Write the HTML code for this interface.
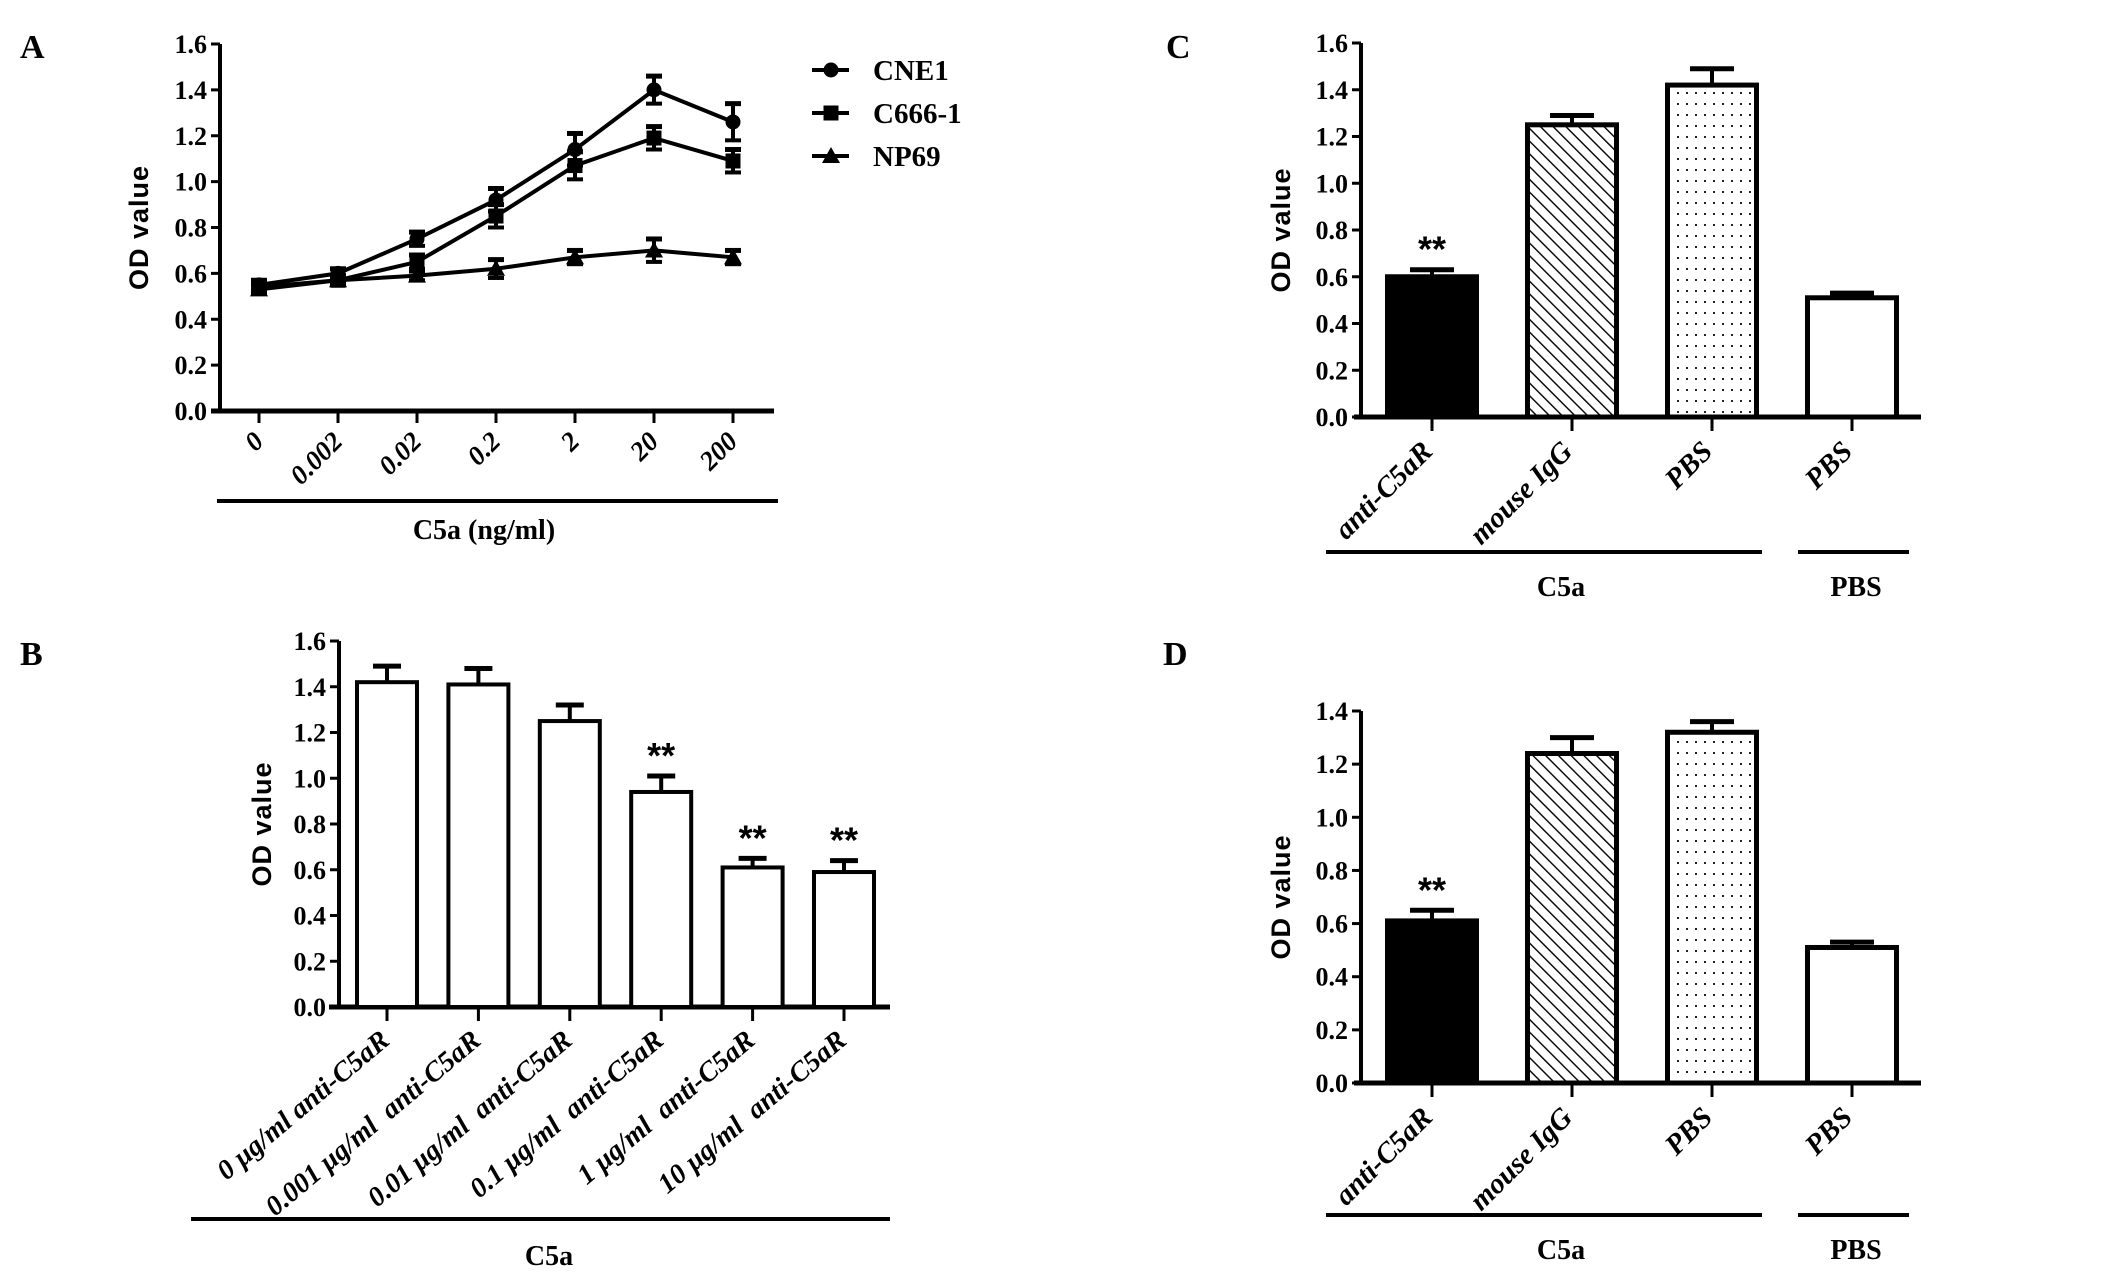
<!DOCTYPE html>
<html><head><meta charset="utf-8"><style>
html,body{margin:0;padding:0;background:#fff;}
svg{display:block;}
text{font-family:"Liberation Serif",serif;font-weight:bold;fill:#000;}
</style></head>
<body>
<svg id="fig" width="2127" height="1276" viewBox="0 0 2127 1276" xmlns="http://www.w3.org/2000/svg">
<defs>
<pattern id="hatch" patternUnits="userSpaceOnUse" width="9" height="9" patternTransform="rotate(-45)">
<rect width="9" height="9" fill="#fff"/><line x1="0" y1="0" x2="0" y2="9" stroke="#000" stroke-width="2.8"/>
</pattern>
<pattern id="dots" patternUnits="userSpaceOnUse" width="9" height="11">
<rect width="9" height="11" fill="#fff"/><rect x="3" y="4" width="2" height="2" fill="#222"/>
</pattern>
</defs>
</svg>
<script>
// Panel A data
const aCats = ["0","0.002","0.02","0.2","2","20","200"];
const aCNE1 = [0.55,0.60,0.75,0.92,1.14,1.40,1.26];
const aCNE1Err = [0.02,0.02,0.03,0.05,0.07,0.06,0.08];
const aC666 = [0.54,0.57,0.65,0.85,1.07,1.19,1.09];
const aC666Err = [0.02,0.02,0.03,0.05,0.06,0.05,0.05];
const aNP69 = [0.53,0.57,0.59,0.62,0.67,0.70,0.67];
const aNP69Err = [0.02,0.01,0.02,0.04,0.03,0.05,0.03];
const aTicks = ["0.0","0.2","0.4","0.6","0.8","1.0","1.2","1.4","1.6"];
// Panel B data
const bCats = ["0 μg/ml anti-C5aR","0.001 μg/ml\u00a0\u00a0anti-C5aR","0.01 μg/ml\u00a0\u00a0anti-C5aR","0.1 μg/ml\u00a0\u00a0anti-C5aR","1 μg/ml\u00a0\u00a0anti-C5aR","10 μg/ml\u00a0\u00a0anti-C5aR"];
const bVals = [1.42,1.41,1.25,0.94,0.61,0.59];
const bErrs = [0.07,0.07,0.07,0.07,0.04,0.05];
const bSig = [false,false,false,true,true,true];
const bTicks = ["0.0","0.2","0.4","0.6","0.8","1.0","1.2","1.4","1.6"];
// Panel C data
const cCats = ["anti-C5aR","mouse IgG","PBS","PBS"];
const cVals = [0.60,1.25,1.42,0.51];
const cErrs = [0.03,0.04,0.07,0.02];
const cTicks = ["0.0","0.2","0.4","0.6","0.8","1.0","1.2","1.4","1.6"];
// Panel D data
const dVals = [0.61,1.24,1.32,0.51];
const dErrs = [0.04,0.06,0.04,0.02];
const dTicks = ["0.0","0.2","0.4","0.6","0.8","1.0","1.2","1.4"];

const NS="http://www.w3.org/2000/svg";
const svg=document.getElementById('fig');
function mk(tag,attrs,parent){const e=document.createElementNS(NS,tag);for(const k in attrs)e.setAttribute(k,attrs[k]);(parent||svg).appendChild(e);return e;}
function txt(s,attrs,parent){const e=mk('text',attrs,parent);e.textContent=s;return e;}

function axes(g,P,ticks,name){
  const y=v=>P.y0-(v/P.vmax)*(P.y0-P.y1);
  let e=mk('line',{x1:P.ax,y1:P.y0+2,x2:P.ax,y2:P.y1,stroke:'#000','stroke-width':4},g);
  
  
  e=mk('line',{x1:P.xl,y1:P.y0,x2:P.xr,y2:P.y0,stroke:'#000','stroke-width':5},g);
  
  
  ticks.forEach(t=>{
    const v=parseFloat(t),yy=y(v);
    mk('line',{x1:P.ax-9,y1:yy,x2:P.ax,y2:yy,stroke:'#000','stroke-width':3},g);
    const l=txt(t,{x:P.ax-13,y:yy+9,'text-anchor':'end','font-size':26},g);
    
    
  });
  const yl=txt('OD value',{x:0,y:0,'text-anchor':'middle','font-size':27,transform:`translate(${P.ylx},${(P.y0+P.y1)/2}) rotate(-90)`,style:'font-family:"Liberation Sans",sans-serif;letter-spacing:1px'},g);
  
  
  return y;
}
function errbar(g,x,yv,ye,w){
  mk('line',{x1:x,y1:yv,x2:x,y2:ye,stroke:'#000','stroke-width':4},g);
  mk('line',{x1:x-w,y1:ye,x2:x+w,y2:ye,stroke:'#000','stroke-width':5},g);
}
function xlabel(g,s,x,y0,ang,name,fs){
  const l=txt(s,{x:0,y:0,'text-anchor':'end','font-size':fs||28,'font-style':'italic',transform:`translate(${x+8},${y0+30}) rotate(${-ang})`},g);
  
  
}
function panelLetter(s,x,y){
  const l=txt(s,{x:x,y:y,'font-size':34},svg);
  
  
}
function stars(g,x,yy){
  const s=txt('**',{x:x,y:yy,'text-anchor':'middle','font-size':36,style:'font-family:"Liberation Sans",sans-serif;font-weight:bold'},g);
  
  
}

// ---------- Panel A ----------
(function(){
  const g=mk('g',{});
  
  
  const P={ax:220,xl:211,xr:774,y0:411,y1:44,vmax:1.6,ylx:148};
  const y=axes(g,P,aTicks,'panel-a');
  const x0=259,dx=79;
  const x=i=>x0+i*dx;
  aCats.forEach((c,i)=>{
    mk('line',{x1:x(i),y1:P.y0,x2:x(i),y2:P.y0+12,stroke:'#000','stroke-width':3},g);
    xlabel(g,c,x(i)-2,P.y0+2,45,'panel-a-x-tick-label',27);
  });
  const series=[[aCNE1,aCNE1Err,'circle','cne1'],[aC666,aC666Err,'square','c666-1'],[aNP69,aNP69Err,'triangle','np69']];
  function marker(cx,cy,type,parent){
    if(type==='circle')return mk('circle',{cx:cx,cy:cy,r:7.5,fill:'#000'},parent);
    if(type==='square')return mk('rect',{x:cx-7.5,y:cy-7.5,width:15,height:15,fill:'#000'},parent);
    return mk('polygon',{points:`${cx},${cy-9} ${cx+9},${cy+7} ${cx-9},${cy+7}`,fill:'#000'},parent);
  }
  series.forEach(([vals,errs,type,nm])=>{
    const sg=mk('g',{},g);
    
    
    const pts=vals.map((v,i)=>`${x(i)},${y(v)}`).join(' ');
    mk('polyline',{points:pts,fill:'none',stroke:'#000','stroke-width':4},sg);
    vals.forEach((v,i)=>{
      errbar(sg,x(i),y(v),y(v+errs[i]),8);
      mk('line',{x1:x(i),y1:y(v),x2:x(i),y2:y(v-errs[i]),stroke:'#000','stroke-width':4},sg);
      mk('line',{x1:x(i)-8,y1:y(v-errs[i]),x2:x(i)+8,y2:y(v-errs[i]),stroke:'#000','stroke-width':4},sg);
      const m=marker(x(i),y(v),type,sg);
      
      
    });
  });
  const leg=[['CNE1','circle',70],['C666-1','square',113],['NP69','triangle',156]];
  leg.forEach(([s,type,ly])=>{
    const lg=mk('g',{},g);
    
    
    mk('line',{x1:812,y1:ly,x2:849,y2:ly,stroke:'#000','stroke-width':4},lg);
    marker(831,ly,type,lg);
    txt(s,{x:873,y:ly+10,'font-size':29},lg);
  });
  const u=mk('line',{x1:217,y1:501,x2:778,y2:501,stroke:'#000','stroke-width':4},g);
  
  
  const t=txt('C5a (ng/ml)',{x:484,y:539,'text-anchor':'middle','font-size':28},g);
  
  
})();
panelLetter('A',20,58);

// ---------- Panel B ----------
(function(){
  const g=mk('g',{});
  
  
  const P={ax:339,xl:329,xr:890,y0:1007,y1:641,vmax:1.6,ylx:271};
  const y=axes(g,P,bTicks,'panel-b');
  const x0=387,dx=91.4,w=60;
  const x=i=>x0+i*dx;
  bVals.forEach((v,i)=>{
    const b=mk('rect',{x:x(i)-w/2,y:y(v),width:w,height:P.y0-y(v),fill:'#fff',stroke:'#000','stroke-width':4},g);
    
    
    errbar(g,x(i),y(v),y(v+bErrs[i]),14);
    mk('line',{x1:x(i),y1:P.y0,x2:x(i),y2:P.y0+14,stroke:'#000','stroke-width':3},g);
    if(bSig[i]) stars(g,x(i),y(v+bErrs[i])-8);
    xlabel(g,bCats[i],x(i)-4,P.y0+6,40,'panel-b-x-tick-label',28);
  });
  const u=mk('line',{x1:191,y1:1219,x2:890,y2:1219,stroke:'#000','stroke-width':4},g);
  
  
  const t=txt('C5a',{x:549,y:1265,'text-anchor':'middle','font-size':28},g);
  
  
})();
panelLetter('B',20,665);

// ---------- Panels C & D ----------
function groupBars(P,vals,errs,ticks,name,ul,titleY){
  const g=mk('g',{});
  
  
  const y=axes(g,P,ticks,name);
  const x0=1432,dx=140,w=89;
  const x=i=>x0+i*dx;
  const fills=['#000','url(#hatch)','url(#dots)','#fff'];
  vals.forEach((v,i)=>{
    const b=mk('rect',{x:x(i)-w/2,y:y(v),width:w,height:P.y0-y(v),fill:fills[i],stroke:'#000','stroke-width':5},g);
    
    
    errbar(g,x(i),y(v),y(v+errs[i]),22);
    mk('line',{x1:x(i),y1:P.y0,x2:x(i),y2:P.y0+14,stroke:'#000','stroke-width':3},g);
    xlabel(g,cCats[i],x(i)-6,P.y0+6,45,name+'-x-tick-label',29);
  });
  stars(g,x(0),y(vals[0]+errs[0])-8);
  let u=mk('line',{x1:1326,y1:ul,x2:1762,y2:ul,stroke:'#000','stroke-width':4},g);
  
  
  u=mk('line',{x1:1798,y1:ul,x2:1909,y2:ul,stroke:'#000','stroke-width':4},g);
  
  
  let t=txt('C5a',{x:1561,y:titleY,'text-anchor':'middle','font-size':28},g);
  
  
  t=txt('PBS',{x:1856,y:titleY,'text-anchor':'middle','font-size':28},g);
  
  
}
groupBars({ax:1361,xl:1354,xr:1921,y0:417,y1:43,vmax:1.6,ylx:1290},cVals,cErrs,cTicks,'panel-c',552,596);
panelLetter('C',1166,58);
groupBars({ax:1361,xl:1354,xr:1921,y0:1083,y1:711,vmax:1.4,ylx:1290},dVals,dErrs,dTicks,'panel-d',1215,1259);
panelLetter('D',1163,665);
</script>
</body></html>
